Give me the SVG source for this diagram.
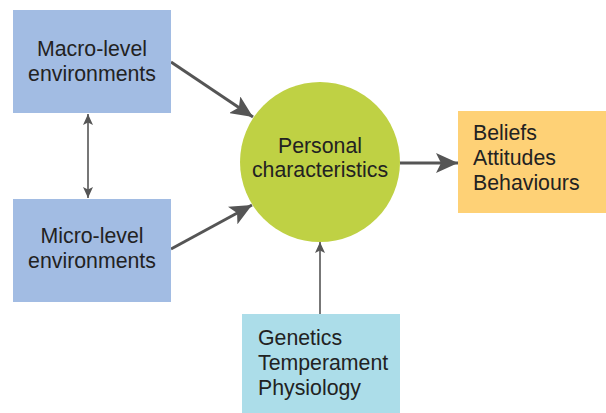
<svg xmlns="http://www.w3.org/2000/svg" width="606" height="413" viewBox="0 0 606 413">
<style>
text{font-family:"Liberation Sans",Arial,sans-serif;font-size:21.3px;fill:#222}
.c{text-anchor:middle}
.thick{stroke:#555;stroke-width:3;fill:none}
.thin{stroke:#555;stroke-width:1.6;fill:none}
</style>
<defs>
<marker id="big" markerUnits="userSpaceOnUse" markerWidth="24" markerHeight="20" refX="22" refY="10" orient="auto"><path d="M0,0 L22,10 L0,20 L5,10 Z" fill="#555"/></marker>
<marker id="small" markerUnits="userSpaceOnUse" markerWidth="12" markerHeight="10" refX="11" refY="5" orient="auto-start-reverse"><path d="M0,0 L11,5 L0,10 L2.5,5 Z" fill="#555"/></marker>
</defs>
<rect width="606" height="413" fill="#fff"/>
<g id="connectors">
<line class="thick" x1="171" y1="62" x2="253" y2="117" marker-end="url(#big)"/>
<line class="thick" x1="171" y1="249" x2="252" y2="205" marker-end="url(#big)"/>
<line class="thick" x1="400" y1="163" x2="458" y2="163" marker-end="url(#big)"/>
<line class="thin" x1="88" y1="114" x2="88" y2="198" marker-start="url(#small)" marker-end="url(#small)"/>
<line class="thin" x1="320" y1="314" x2="320" y2="242" marker-end="url(#small)"/>
</g>
<g id="macro">
<rect x="13" y="10" width="158" height="103" fill="#a2bce3"/>
<text class="c" x="92" y="56">Macro-level</text>
<text class="c" x="92" y="81">environments</text>
</g>
<g id="micro">
<rect x="13" y="199" width="158" height="103" fill="#a2bce3"/>
<text class="c" x="92" y="243">Micro-level</text>
<text class="c" x="92" y="268">environments</text>
</g>
<g id="personal">
<circle cx="320" cy="162" r="80" fill="#bfd144"/>
<text class="c" x="320" y="153">Personal</text>
<text class="c" x="320" y="177">characteristics</text>
</g>
<g id="outcomes">
<rect x="458" y="111" width="148" height="102" fill="#fed176"/>
<text x="473" y="140">Beliefs</text>
<text x="473" y="165">Attitudes</text>
<text x="473" y="190">Behaviours</text>
</g>
<g id="biology">
<rect x="242" y="314" width="158" height="99" fill="#acdde9"/>
<text x="258" y="345">Genetics</text>
<text x="258" y="370">Temperament</text>
<text x="258" y="395">Physiology</text>
</g>
</svg>
